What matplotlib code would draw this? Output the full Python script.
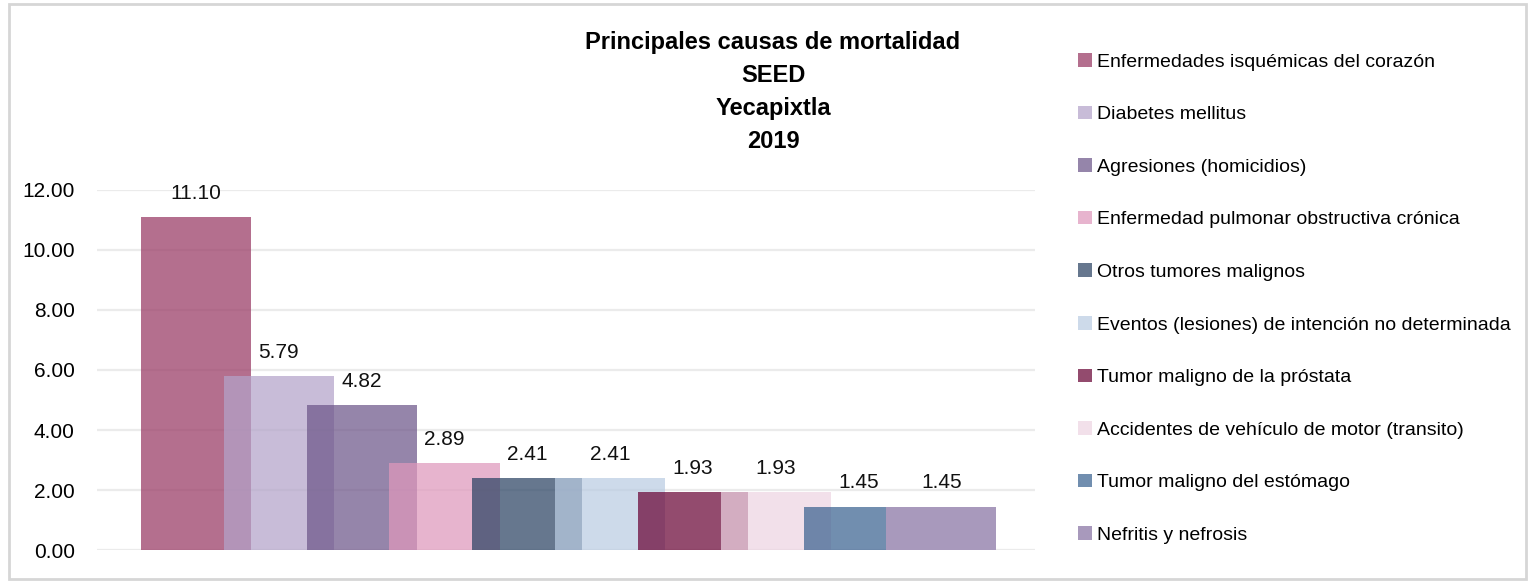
"""
Principales causas de mortalidad - Yecapixtla 2019 (SEED)
"""
import matplotlib
matplotlib.use("Agg")
import matplotlib.pyplot as plt
from matplotlib.patches import Rectangle
import numpy as np

causes = [
    "Enfermedades isquémicas del corazón",
    "Diabetes mellitus",
    "Agresiones (homicidios)",
    "Enfermedad pulmonar obstructiva crónica",
    "Otros tumores malignos",
    "Eventos (lesiones) de intención no determinada",
    "Tumor maligno de la próstata",
    "Accidentes de vehículo de motor (transito)",
    "Tumor maligno del estómago",
    "Nefritis y nefrosis",
]
rates = [11.10, 5.79, 4.82, 2.89, 2.41, 2.41, 1.93, 1.93, 1.45, 1.45]

# colour each bar shows on a white background
shown_colors = ["#b5708f", "#c8bdd8", "#9685aa", "#e8b5cf", "#66788f",
                "#cddaea", "#944b6e", "#f2e0ea", "#728eb0", "#a899bc"]
alphas = [0.72] * 9 + [1.0]
yticks = [0, 2, 4, 6, 8, 10, 12]


def base_color(hex_color, alpha):
    """Colour that, drawn with alpha over white, gives hex_color."""
    rgb = np.array(matplotlib.colors.to_rgb(hex_color))
    return tuple(np.clip((rgb - (1 - alpha)) / alpha, 0, 1))


plt.rcParams["font.family"] = ["Liberation Sans", "DejaVu Sans"]

fig = plt.figure(figsize=(15.28, 5.82), dpi=100)
ax = fig.add_axes([97 / 1528, 1 - 550 / 582, 938 / 1528, 360 / 582])

x = np.arange(len(rates))
bars = []
for i, (val, col, a) in enumerate(zip(rates, shown_colors, alphas)):
    b = ax.bar(x[i], val, width=1.33, color=base_color(col, a), alpha=a,
               zorder=2 + i)
    bars.append(b)
    ax.annotate(f"{val:.2f}", (x[i], val), xytext=(0, 17),
                textcoords="offset points", ha="center", va="center",
                fontsize=15, color="#111111", clip_on=False)

ax.set_xlim(-1.196, 10.13)
ax.set_ylim(0, 12)
ax.set_yticks(yticks)
ax.set_yticklabels([f"{t:.2f}" for t in yticks], fontsize=15)
ax.set_xticks([])
ax.tick_params(axis="y", length=0, pad=16)
ax.yaxis.grid(True, color="#ebebeb", linewidth=1.6, zorder=0)
ax.set_axisbelow(True)
for s in ax.spines.values():
    s.set_visible(False)

fig.text(773 / 1528, 1 - 92 / 582,
         "Principales causas de mortalidad\nSEED\nYecapixtla\n2019",
         ha="center", va="center", fontsize=17, fontweight="bold",
         linespacing=1.55)

ax.legend([b[0] for b in bars], causes, loc="upper left",
          bbox_to_anchor=(1078 / 1528, 1 - 53 / 582),
          bbox_transform=fig.transFigure, frameon=False, fontsize=14,
          handlelength=0.7, handleheight=0.7, handletextpad=0.3,
          labelspacing=1.8, borderpad=0, borderaxespad=0)

# outer chart border
fig.patches.append(Rectangle((9 / 1528, 3 / 582), 1517 / 1528, 575 / 582,
                             transform=fig.transFigure, fill=False,
                             edgecolor="#d6d6d6", linewidth=2))

plt.savefig("out.png", dpi=100)
